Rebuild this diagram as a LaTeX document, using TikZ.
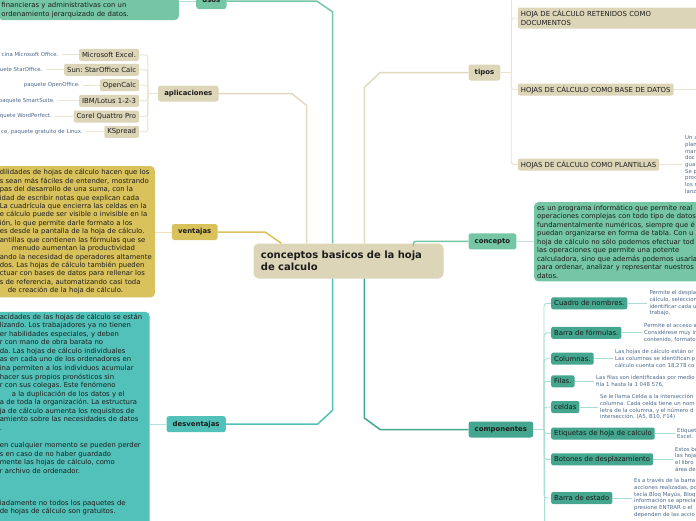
\documentclass[tikz,border=0pt]{standalone}
\usepackage{fontspec}
\setmainfont{DejaVu Sans}
\usetikzlibrary{positioning}
\frenchspacing
\definecolor{mapbeige}{HTML}{DDD5B8}
\definecolor{beigeline}{HTML}{E2DAC0}
\definecolor{beigetwig}{HTML}{E9E3CF}
\definecolor{mapgreen}{HTML}{74C6A4}
\definecolor{mapmustard}{HTML}{D9C25B}
\definecolor{mapteal}{HTML}{52C1B9}
\definecolor{mapdeepteal}{HTML}{44A68E}
\definecolor{tealtwig}{HTML}{A9DDD3}
\definecolor{inkdark}{HTML}{1C1C1C}
\definecolor{hintblue}{HTML}{4C6A8C}

\tikzset{
  topic/.style={rounded corners=2.5pt, minimum height=16pt, inner xsep=6.2pt, inner ysep=0pt, text=inkdark, font=\bfseries\fontsize{6.9}{8}\selectfont},
  leaf/.style={rounded corners=2pt, minimum height=12pt, inner xsep=3pt, inner ysep=0pt, text=inkdark, font=\fontsize{6.9}{8.8}\selectfont},
  notebox/.style={rounded corners=4pt, align=left, inner xsep=3pt, inner ysep=2.8pt, text=inkdark, font=\fontsize{6.85}{8.5}\selectfont},
  hint/.style={align=left, inner sep=1pt, text=hintblue, font=\fontsize{5.4}{6.67}\selectfont},
  branch/.style={line width=1.5pt},
  twig/.style={line width=0.9pt, rounded corners=3pt},
}

\begin{document}
\begin{tikzpicture}[x=1pt,y=-1pt]
\useasboundingbox (0,0) rectangle (696,520);
\fill[white] (0,0) rectangle (696,520);
\clip (0,0) rectangle (696,520);

% central topic
\node[fill=mapbeige, rounded corners=5pt, anchor=north west, align=left,
  text width=175.2pt, inner xsep=7.4pt, inner ysep=0pt, minimum height=35pt,
  text=inkdark, font=\bfseries\fontsize{10}{12.5}\selectfont]
  (root) at (253.3,243.3) {conceptos basicos de la hoja\\de calculo};

% main topics
\node[topic, fill=mapgreen, anchor=east] (usos) at (226.7,1) {usos};
\node[topic, fill=mapbeige, anchor=east] (aplicaciones) at (218.7,93.5) {aplicaciones};
\node[topic, fill=mapmustard, anchor=east] (ventajas) at (217.7,232) {ventajas};
\node[topic, fill=mapteal, anchor=east] (desventajas) at (226,424.2) {desventajas};
\node[topic, fill=mapbeige, anchor=west] (tipos) at (468.3,72.5) {tipos};
\node[topic, fill=mapgreen, anchor=west] (concepto) at (468.3,241.4) {concepto};
\node[topic, fill=mapdeepteal, anchor=west] (componentes) at (468.3,429.5) {componentes};

\draw[branch, draw=mapgreen] (usos.east) -- ++(90,0) -- ++(16,11) -- ([xshift=79.4pt]root.north west);
\draw[branch, draw=beigeline] (aplicaciones.east) -- ++(73,0) -- ++(15,12) -- ([xshift=53.4pt]root.north west);
\draw[branch, draw=mapmustard] (ventajas.east) -- ++(47.3,0) -- ([xshift=28pt]root.north west);
\draw[branch, draw=mapteal] (desventajas.east) -- ++(91.5,0) -- ++(15.2,-14) -- ([xshift=79.4pt]root.south west);
\draw[branch, draw=beigeline] (tipos.west) -- ++(-88.3,0) -- ++(-15.7,15) -- ([xshift=111pt]root.north west);
\draw[branch, draw=mapgreen, rounded corners=2pt] (concepto.west) -| ([xshift=-30pt]root.north east);
\draw[branch, draw=mapdeepteal] (componentes.west) -- ++(-88.3,0) -- ++(-15.7,-11.5) -- ([xshift=111pt]root.south west);

% notes
\node[notebox, fill=mapgreen, anchor=south east, text width=174.3pt, inner ysep=2.5pt]
  (usosinfo) at (179,20.3) {\mbox{}\\financieras y administrativas con un\\ordenamiento jerarquizado de datos.};
\node[notebox, fill=mapmustard, anchor=north east, text width=152pt, inner ysep=3.2pt,
  font=\fontsize{6.85}{8.42}\selectfont] (ventajasinfo) at (155,166) {%
dilidades de hojas de cálculo hacen que los\\
s sean más fáciles de entender, mostrando\\
pas del desarrollo de una suma, con la\\
idad de escribir notas que explican cada\\
La cuadrícula que encierra las celdas en la\\
e cálculo puede ser visible o invisible en la\\
ión, lo que permite darle formato a los\\
es desde la pantalla de la hoja de cálculo.\\
antillas que contienen las fórmulas que se\\
\hspace*{12pt}menudo aumentan la productividad\\
ando la necesidad de operadores altamente\\
dos. Las hojas de cálculo también pueden\\
ctuar con bases de datos para rellenar los\\
s de referencia, automatizando casi toda\\
\hspace*{8pt}de creación de la hoja de cálculo.};
\node[notebox, fill=mapteal, anchor=north east, text width=146.7pt, inner ysep=1.8pt,
  font=\fontsize{6.85}{8.56}\selectfont] (desventajasinfo) at (149.7,311.7) {%
acidades de las hojas de cálculo se están\\
lizando. Los trabajadores ya no tienen\\
er habilidades especiales, y deben\\
r con mano de obra barata no\\
da. Las hojas de cálculo individuales\\
as en cada uno de los ordenadores en\\
ina permiten a los individuos acumular\\
hacer sus propios pronósticos sin\\
r con sus colegas. Este fenómeno\\
\hspace*{12pt}a la duplicación de los datos y el\\
a de toda la organización. La estructura\\
ja de cálculo aumenta los requisitos de\\
amiento sobre las necesidades de datos\\
.\\[8.6pt]
en cualquier momento se pueden perder\\
s en caso de no haber guardado\\
mente las hojas de cálculo, como\\
r archivo de ordenador.\\[23.4pt]
iadamente no todos los paquetes de\\
de hojas de cálculo son gratuitos.\\
\strut\\
\strut};
\node[notebox, fill=mapgreen, anchor=north west, text width=200pt] (conceptoinfo) at (534,202) {%
es un programa informático que permite real\\
operaciones complejas con todo tipo de datos\\
fundamentalmente numéricos, siempre que é\\
puedan organizarse en forma de tabla. Con u\\
hoja de cálculo no sólo podemos efectuar tod\\
las operaciones que permite una potente\\
calculadora, sino que además podemos usarla\\
para ordenar, analizar y representar nuestros\\
datos.};

\draw[twig, draw=mapgreen!55] (usos.west) -- (usos.west -| usosinfo.east);
\draw[twig, draw=mapmustard!45] (ventajas.west) -- (ventajas.west -| ventajasinfo.east);
\draw[twig, draw=mapteal!45] (desventajas.west) -- (desventajas.west -| desventajasinfo.east);
\draw[twig, draw=mapgreen!45] (concepto.east) -- (concepto.east -| conceptoinfo.west);

% aplicaciones
\node[leaf, fill=mapbeige, anchor=east] (excel) at (139.3,54.8) {Microsoft Excel.};
\node[leaf, fill=mapbeige, anchor=east] (starcalc) at (139.3,69.8) {Sun: StarOffice Calc};
\node[leaf, fill=mapbeige, anchor=east] (opencalc) at (139.3,85.2) {OpenCalc};
\node[leaf, fill=mapbeige, anchor=east] (lotus) at (139.3,100.8) {IBM/Lotus 1-2-3};
\node[leaf, fill=mapbeige, anchor=east] (quattro) at (139.3,116.5) {Corel Quattro Pro};
\node[leaf, fill=mapbeige, anchor=east] (kspread) at (139.3,131.8) {KSpread};

\node[hint, anchor=east] (excelhint) at (59.5,54.8) {cina Microsoft Office.};
\node[hint, anchor=east] (starcalchint) at (43.5,69.8) {uete StarOffice.};
\node[hint, anchor=east] (opencalchint) at (81,85.5) {paquete OpenOffice.};
\node[hint, anchor=east] (lotushint) at (56,100.8) {paquete SmartSuite.};
\node[hint, anchor=east] (quattrohint) at (53,116.5) {paquete WordPerfect.};
\node[hint, anchor=east] (kspreadhint) at (84,131.8) {ce, paquete gratuito de Linux.};

\coordinate (aplj) at ([xshift=-10pt]aplicaciones.west);
\draw[twig, draw=beigetwig] (aplicaciones.west) -- (aplj);
\draw[twig, draw=beigetwig] (aplj) |- (excel.east);
\draw[twig, draw=beigetwig] (aplj) |- (starcalc.east);
\draw[twig, draw=beigetwig] (aplj) |- (opencalc.east);
\draw[twig, draw=beigetwig] (aplj) |- (lotus.east);
\draw[twig, draw=beigetwig] (aplj) |- (quattro.east);
\draw[twig, draw=beigetwig] (aplj) |- (kspread.east);
\draw[twig, draw=beigetwig] (excel.west) -- ([xshift=2pt]excelhint.east);
\draw[twig, draw=beigetwig] (starcalc.west) -- ([xshift=2pt]starcalchint.east);
\draw[twig, draw=beigetwig] (opencalc.west) -- ([xshift=2pt]opencalchint.east);
\draw[twig, draw=beigetwig] (lotus.west) -- ([xshift=2pt]lotushint.east);
\draw[twig, draw=beigetwig] (quattro.west) -- ([xshift=2pt]quattrohint.east);
\draw[twig, draw=beigetwig] (kspread.west) -- ([xshift=2pt]kspreadhint.east);

% tipos
\node[leaf, fill=mapbeige, anchor=north west, align=left, text width=220pt, minimum height=21pt]
  (retenidos) at (517.7,7.3) {HOJA DE CÁLCULO RETENIDOS COMO\\DOCUMENTOS};
\node[leaf, fill=mapbeige, anchor=west] (basedatos) at (517.7,89.5) {HOJAS DE CÁLCULO COMO BASE DE DATOS};
\node[leaf, fill=mapbeige, anchor=west] (plantillas) at (517.7,164.5) {HOJAS DE CÁLCULO COMO PLANTILLAS};
\node[hint, anchor=west] (plantillashint) at (684,164.5) {Un a\\plan\\mar\\doc\\gua\\Se p\\proc\\los r\\lanz};

\coordinate (tiposj) at ([xshift=10.7pt]tipos.east);
\coordinate (tiposup) at (510.7,-10);
\coordinate (basedatosout) at (700,89.5);
\draw[twig, draw=beigetwig] (tipos.east) -- (tiposj);
\draw[twig, draw=beigetwig] (tiposj) -- (tiposj |- tiposup);
\draw[twig, draw=beigetwig] (tiposj) |- (retenidos.west);
\draw[twig, draw=beigetwig] (tiposj) |- (basedatos.west);
\draw[twig, draw=beigetwig] (tiposj) |- (plantillas.west);
\draw[twig, draw=beigetwig] (basedatos.east) -- (basedatosout);
\draw[twig, draw=beigetwig] (plantillas.east) -- ([xshift=-1pt]plantillashint.west);

% componentes
\node[leaf, fill=mapdeepteal, anchor=west] (cuadro) at (551,303.3) {Cuadro de nombres.};
\node[leaf, fill=mapdeepteal, anchor=west] (formulas) at (551,332.8) {Barra de fórmulas.};
\node[leaf, fill=mapdeepteal, anchor=west] (columnas) at (551,358.7) {Columnas.};
\node[leaf, fill=mapdeepteal, anchor=west] (filas) at (551,381.3) {Filas.};
\node[leaf, fill=mapdeepteal, anchor=west] (celdas) at (551,407) {celdas};
\node[leaf, fill=mapdeepteal, anchor=west] (etiquetas) at (551,433.5) {Etiquetas de hoja de calculo};
\node[leaf, fill=mapdeepteal, anchor=west] (botones) at (551,459.3) {Botones de desplazamiento};
\node[leaf, fill=mapdeepteal, anchor=west] (estado) at (551,498) {Barra de estado};

\node[hint, anchor=west] (cuadrohint) at (648.3,303.3) {Permite el despla\\cálculo, seleccion\\identificar cada u\\trabajo.};
\node[hint, anchor=west] (formulashint) at (643,332.8) {Permite el acceso a\\Considérese muy ir\\contenido, formato};
\node[hint, anchor=west] (columnashint) at (614,358.7) {Las hojas de cálculo están or\\Las columnas se identifican p\\cálculo cuenta con 18,278 co};
\node[hint, anchor=west] (filashint) at (595,381.3) {Las filas son identificadas por medio\\fila 1 hasta la 1 048 576,};
\node[hint, anchor=west] (celdashint) at (599,407) {Se le llama Celda a la intersección\\columna. Cada celda tiene un nom\\letra de la columna, y el número d\\intersección. (A5, B10, F14)};
\node[hint, anchor=west] (etiquetashint) at (676,433.5) {Etiquet\\Excel.};
\node[hint, anchor=west] (botoneshint) at (674,459.3) {Estos bo\\las hoja\\el libro\\área de};
\node[hint, anchor=west] (estadohint) at (633,498) {Es a través de la barra\\acciones realizadas, po\\tecla Bloq Mayús, Bloq\\información se aprecia\\presione ENTRAR o el\\dependen de las accio};

\coordinate (compj) at ([xshift=10.6pt]componentes.east);
\coordinate (compdown) at (543.3,530);
\draw[twig, draw=tealtwig] (componentes.east) -- (compj);
\draw[twig, draw=tealtwig] (compj) -- (compj |- compdown);
\draw[twig, draw=tealtwig] (compj) |- (cuadro.west);
\draw[twig, draw=tealtwig] (compj) |- (formulas.west);
\draw[twig, draw=tealtwig] (compj) |- (columnas.west);
\draw[twig, draw=tealtwig] (compj) |- (filas.west);
\draw[twig, draw=tealtwig] (compj) |- (celdas.west);
\draw[twig, draw=tealtwig] (compj) |- (etiquetas.west);
\draw[twig, draw=tealtwig] (compj) |- (botones.west);
\draw[twig, draw=tealtwig] (compj) |- (estado.west);
\draw[twig, draw=tealtwig] (cuadro.east) -- ([xshift=-1.5pt]cuadrohint.west);
\draw[twig, draw=tealtwig] (formulas.east) -- ([xshift=-1.5pt]formulashint.west);
\draw[twig, draw=tealtwig] (columnas.east) -- ([xshift=-1.5pt]columnashint.west);
\draw[twig, draw=tealtwig] (filas.east) -- ([xshift=-1.5pt]filashint.west);
\draw[twig, draw=tealtwig] (celdas.east) -- ([xshift=-1.5pt]celdashint.west);
\draw[twig, draw=tealtwig] (etiquetas.east) -- ([xshift=-1.5pt]etiquetashint.west);
\draw[twig, draw=tealtwig] (botones.east) -- ([xshift=-1.5pt]botoneshint.west);
\draw[twig, draw=tealtwig] (estado.east) -- ([xshift=-1.5pt]estadohint.west);
\end{tikzpicture}
\end{document}
